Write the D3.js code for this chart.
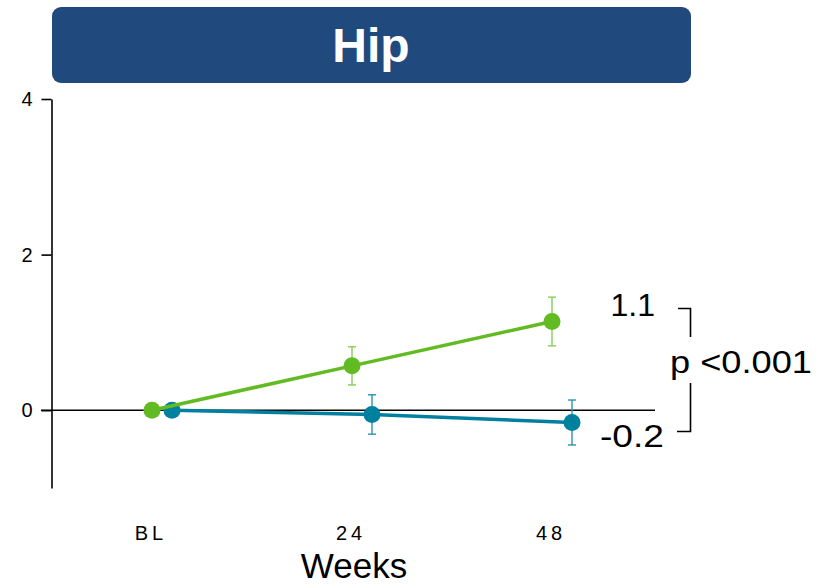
<!DOCTYPE html>
<html>
<head>
<meta charset="utf-8">
<script src="https://cdn.jsdelivr.net/npm/d3@7"></script>
<style>
    body { margin: 0; background: #fff; }
    text { font-family: "Liberation Sans", Arial, sans-serif; }
</style>
</head>
<body>
<div id="chart"></div>
<script>
// chart data
const title = "Hip";
const weeks = ["BL", "24", "48"];
const yTicks = [0, 2, 4];

// mean change and error (half-width) per visit
const greenMean = [0, 0.57, 1.14];
const greenErr = [0, 0.245, 0.313];
const tealMean = [0, -0.055, -0.158];
const tealErr = [0, 0.253, 0.289];

// annotation texts
const greenLabel = "1.1";
const tealLabel = "-0.2";
const pLabel = "p <0.001";

const W = 827, H = 587;

function draw() {
    var svg = d3.select("#chart").append("svg")
        .attr("width", W)
        .attr("height", H);

    // title banner
    svg.append("rect")
        .attr("x", 52).attr("y", 7)
        .attr("width", 639).attr("height", 76)
        .attr("rx", 9)
        .attr("fill", "#204a7e");
    svg.append("text")
        .attr("x", 371).attr("y", 62)
        .attr("text-anchor", "middle")
        .attr("fill", "#fff")
        .style("font-weight", "bold")
        .style("font-size", "48px")
        .text(title);

    var x = d3.scalePoint().domain(weeks).range([162, 562]);
    var y = d3.scaleLinear().domain([-1, 4]).range([488, 99]);

    // y axis
    var yAxis = svg.append("g")
        .attr("transform", "translate(51.5,0)")
        .attr("font-size", 20)
        .call(d3.axisLeft(y).tickValues(yTicks).tickFormat(d3.format("d"))
            .tickSize(10).tickSizeOuter(0).tickPadding(9));
    yAxis.attr("font-size", 20).attr("font-family", "'Liberation Sans', Arial, sans-serif");
    yAxis.selectAll("path, line").attr("stroke", "#000").attr("stroke-width", 1.6);
    yAxis.selectAll("text").attr("fill", "#000");

    // zero line
    svg.append("line")
        .attr("x1", 41).attr("x2", 655)
        .attr("y1", y(0)).attr("y2", y(0))
        .attr("stroke", "#000").attr("stroke-width", 1.6);

    // x labels
    svg.selectAll(".xlab")
        .data(weeks)
        .enter().append("text")
        .attr("class", "xlab")
        .attr("x", d => x(d) - 11)
        .attr("y", 540)
        .attr("text-anchor", "middle")
        .style("font-size", "20px")
        .style("letter-spacing", "4px")
        .text(d => d);

    svg.append("text")
        .attr("x", 354).attr("y", 578)
        .attr("text-anchor", "middle")
        .style("font-size", "35px")
        .text("Weeks");

    // series: teal first, green on top
    drawSeries(tealMean, tealErr, 10, "#00809f", "#2b93ad");
    drawSeries(greenMean, greenErr, -10, "#62bb22", "#86cf55");

    function drawSeries(means, errs, offset, color, errColor) {
        var pts = weeks.map((w, i) => ({ w: w, m: means[i], e: errs[i] }));
        var g = svg.append("g");

        g.append("path")
            .datum(pts)
            .attr("fill", "none")
            .attr("stroke", color)
            .attr("stroke-width", 3.5)
            .attr("d", d3.line().x(d => x(d.w) + offset).y(d => y(d.m)));

        var eb = g.selectAll(".err")
            .data(pts.filter(d => d.e > 0))
            .enter().append("g");
        eb.append("line")
            .attr("x1", d => x(d.w) + offset).attr("x2", d => x(d.w) + offset)
            .attr("y1", d => y(d.m + d.e)).attr("y2", d => y(d.m - d.e))
            .attr("stroke", errColor).attr("stroke-width", 1.4);
        [1, -1].forEach(s => {
            eb.append("line")
                .attr("x1", d => x(d.w) + offset - 4).attr("x2", d => x(d.w) + offset + 4)
                .attr("y1", d => y(d.m + s * d.e)).attr("y2", d => y(d.m + s * d.e))
                .attr("stroke", errColor).attr("stroke-width", 1.4);
        });

        g.selectAll("circle")
            .data(pts)
            .enter().append("circle")
            .attr("cx", d => x(d.w) + offset)
            .attr("cy", d => y(d.m))
            .attr("r", 8.5)
            .attr("fill", color);
    }

    // end-of-study annotation
    var ann = svg.append("g").style("font-size", "32px");
    ann.append("text")
        .attr("x", 655).attr("y", 316)
        .attr("text-anchor", "end")
        .text(greenLabel);
    ann.append("text")
        .attr("x", 600).attr("y", 447)
        .attr("textLength", 64)
        .attr("lengthAdjust", "spacingAndGlyphs")
        .text(tealLabel);
    ann.append("text")
        .attr("x", 670).attr("y", 373)
        .attr("textLength", 142)
        .attr("lengthAdjust", "spacingAndGlyphs")
        .text(pLabel);

    ann.append("path")
        .attr("d", "M678,308.5H690.5V337")
        .attr("fill", "none").attr("stroke", "#000").attr("stroke-width", 1.6);
    ann.append("path")
        .attr("d", "M690.5,383V431.5H677")
        .attr("fill", "none").attr("stroke", "#000").attr("stroke-width", 1.6);
}

draw();
</script>
</body>
</html>
